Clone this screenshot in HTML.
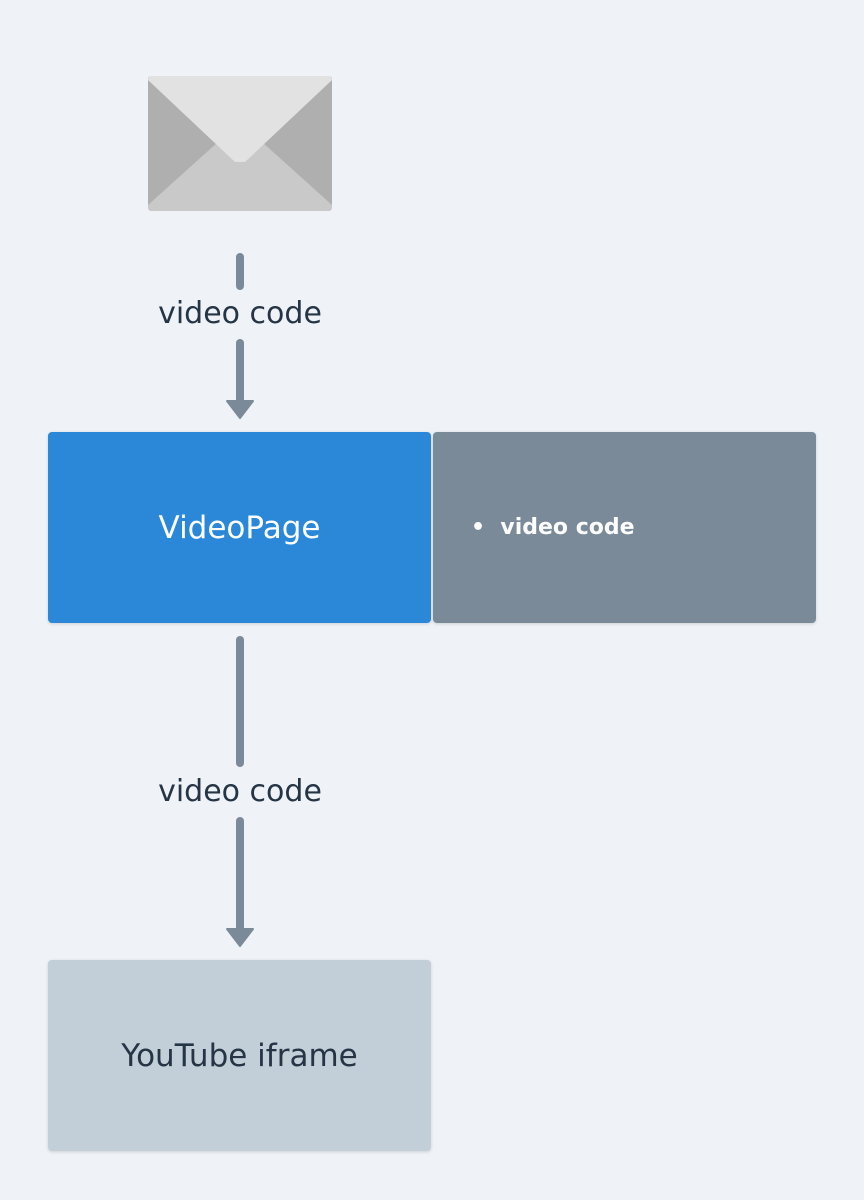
<!DOCTYPE html>
<html><head><style>
body{margin:0;width:864px;height:1200px;background:#eff3f7;position:relative;overflow:hidden;font-family:"DejaVu Sans","Liberation Sans",sans-serif}
.box{position:absolute;border-radius:4px;display:flex;align-items:center;justify-content:center;box-shadow:0 1px 3px rgba(0,0,0,0.15)}
.lbl{position:absolute;left:100px;width:280px;text-align:center;font-size:30px;color:#253545;line-height:36px}
</style></head><body>
<svg width="864" height="1200" style="position:absolute;left:0;top:0">
<rect x="148" y="76" width="184" height="135" rx="3" fill="#c9c9c9"/>
<polygon points="148,80 148,205 218,142" fill="#afafaf"/>
<polygon points="332,80 332,205 262,142" fill="#afafaf"/>
<polygon points="150,76 330,76 332,80 245,162 235,162 148,80" fill="#e2e2e2"/>
<g stroke="#7a8a99" stroke-width="8" stroke-linecap="round">
<line x1="240" y1="257" x2="240" y2="286"/>
<line x1="240" y1="343" x2="240" y2="402"/>
<line x1="240" y1="640" x2="240" y2="763"/>
<line x1="240" y1="821" x2="240" y2="930"/>
</g>
<polygon points="227,401 253,401 240,418" fill="#7a8a99" stroke="#7a8a99" stroke-width="2" stroke-linejoin="round"/>
<polygon points="227,929 253,929 240,946" fill="#7a8a99" stroke="#7a8a99" stroke-width="2" stroke-linejoin="round"/>
</svg>
<div class="lbl" style="top:296px">video code</div>
<div class="lbl" style="top:774px">video code</div>
<div class="box" style="left:48px;top:432px;width:383px;height:191px;background:#2b88d8;color:#fff;font-size:31px">VideoPage</div>
<div class="box" style="left:433px;top:432px;width:383px;height:191px;background:#7a8a99;color:#fff;font-size:22px;font-weight:bold;justify-content:flex-start"><span style="margin-left:38px">•&nbsp;&nbsp;video code</span></div>
<div class="box" style="left:48px;top:960px;width:383px;height:191px;background:#c2cfd8;color:#253545;font-size:31px">YouTube iframe</div>
</body></html>
